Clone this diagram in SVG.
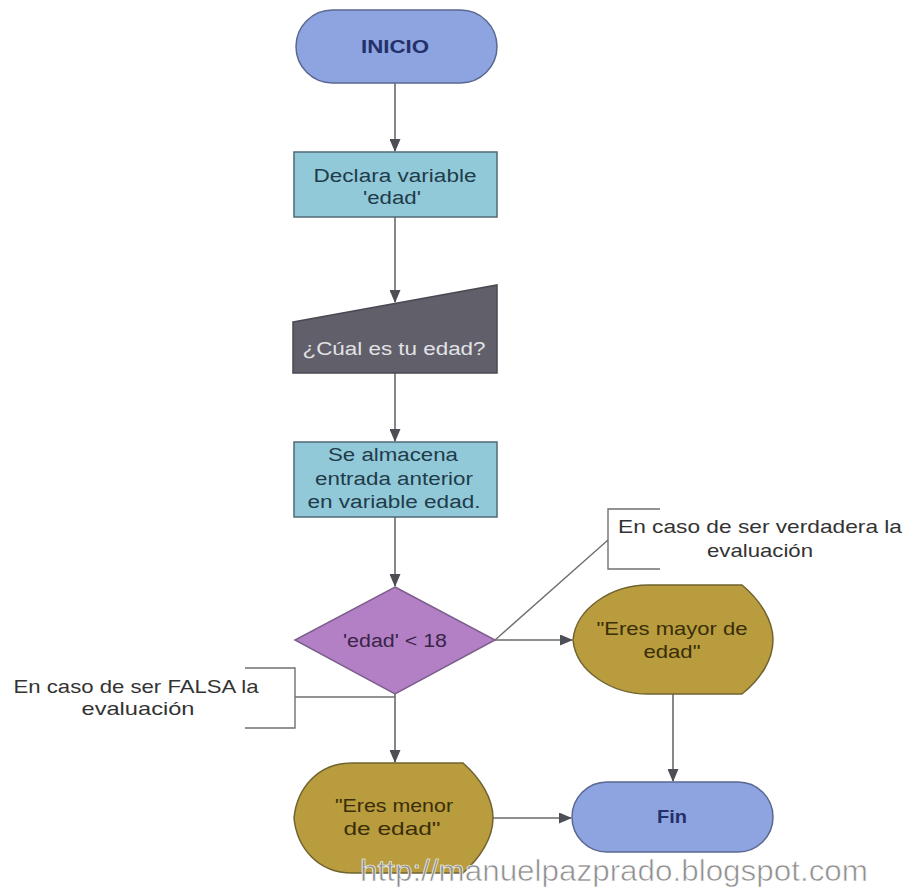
<svg xmlns="http://www.w3.org/2000/svg" width="904" height="892" viewBox="0 0 904 892">
<style>
text{font-family:"Liberation Sans",Arial,sans-serif;text-anchor:middle}
.term{fill:#8ea4e0;stroke:#5a6890;stroke-width:1.5}
.box{fill:#92c9d9;stroke:#4f6a76;stroke-width:1.5}
.inp{fill:#615f6a;stroke:#4a4852;stroke-width:1.5}
.dec{fill:#b380c6;stroke:#7d5e8c;stroke-width:1.5}
.disp{fill:#b89c3e;stroke:#6f6330;stroke-width:1.5}
.tterm{fill:#24306a;font-size:18px;font-weight:bold}
.tbox{fill:#1f3c4a;font-size:18px}
.tinp{fill:#e2e2e6;font-size:18px}
.tdec{fill:#3a2446;font-size:18px}
.tdisp{fill:#3a2e08;font-size:19px}
.tnote{fill:#333;font-size:19px}
.conn{fill:none;stroke:#6a6a6a;stroke-width:1.6}
.note{fill:none;stroke:#707070;stroke-width:1.4}
</style>
<defs>
<marker id="ah" markerWidth="13" markerHeight="11" refX="12" refY="5.5" orient="auto" markerUnits="userSpaceOnUse">
<path d="M0,0 L13,5.5 L0,11 Z" fill="#4e4e56"/>
</marker>
</defs>
<rect width="904" height="892" fill="#ffffff"/>
<g id="connectors">
<line class="conn" x1="395" y1="83" x2="395" y2="151" marker-end="url(#ah)"/>
<line class="conn" x1="395" y1="217" x2="395" y2="302" marker-end="url(#ah)"/>
<line class="conn" x1="395" y1="373" x2="395" y2="441" marker-end="url(#ah)"/>
<line class="conn" x1="395" y1="517" x2="395" y2="586" marker-end="url(#ah)"/>
<line class="conn" x1="395" y1="694" x2="395" y2="762" marker-end="url(#ah)"/>
<line class="conn" x1="495" y1="640" x2="572" y2="640" marker-end="url(#ah)"/>
<line class="conn" x1="673" y1="694" x2="673" y2="781" marker-end="url(#ah)"/>
<line class="conn" x1="493" y1="818" x2="571" y2="818" marker-end="url(#ah)"/>
</g>
<g id="note-false">
<path class="note" d="M245,668 H295 V728 H245 M295,697 H395"/>
<text class="tnote" x="136" y="693" textLength="245" lengthAdjust="spacingAndGlyphs">En caso de ser FALSA la</text>
<text class="tnote" x="138" y="715" textLength="113" lengthAdjust="spacingAndGlyphs">evaluación</text>
</g>
<g id="note-true">
<path class="note" d="M660,509 H608 V569 H660 M608,540 L495,640"/>
<text class="tnote" x="760" y="533" textLength="284" lengthAdjust="spacingAndGlyphs">En caso de ser verdadera la</text>
<text class="tnote" x="760" y="557" textLength="106" lengthAdjust="spacingAndGlyphs">evaluación</text>
</g>
<g id="inicio">
<rect class="term" x="296" y="10" width="201" height="73" rx="36.5"/>
<text class="tterm" x="395" y="53" textLength="68" lengthAdjust="spacingAndGlyphs">INICIO</text>
</g>
<g id="declara">
<rect class="box" x="294" y="152" width="203" height="65"/>
<text class="tbox" x="395" y="182" textLength="163" lengthAdjust="spacingAndGlyphs">Declara variable</text>
<text class="tbox" x="392" y="204" textLength="58" lengthAdjust="spacingAndGlyphs">'edad'</text>
</g>
<g id="entrada">
<path class="inp" d="M293,322 L497,285 L497,373 L293,373 Z"/>
<text class="tinp" x="394" y="355" textLength="183" lengthAdjust="spacingAndGlyphs">¿Cúal es tu edad?</text>
</g>
<g id="almacena">
<rect class="box" x="294" y="442" width="203" height="75"/>
<text class="tbox" x="393" y="461" textLength="130" lengthAdjust="spacingAndGlyphs">Se almacena</text>
<text class="tbox" x="394" y="485" textLength="158" lengthAdjust="spacingAndGlyphs">entrada anterior</text>
<text class="tbox" x="394" y="508" textLength="173" lengthAdjust="spacingAndGlyphs">en variable edad.</text>
</g>
<g id="decision">
<path class="dec" d="M395,587 L495,640 L395,694 L295,640 Z"/>
<text class="tdec" x="395" y="647" textLength="104" lengthAdjust="spacingAndGlyphs">'edad' &lt; 18</text>
</g>
<g id="mayor">
<path class="disp" d="M648,585 L742,585 C760,600 773,620 773,640 C773,660 760,680 742,694 L648,694 C612,694 576,672 573,640 C576,608 612,585 648,585 Z"/>
<text class="tdisp" x="672" y="635" textLength="151" lengthAdjust="spacingAndGlyphs">"Eres mayor de</text>
<text class="tdisp" x="672" y="658" textLength="57" lengthAdjust="spacingAndGlyphs">edad"</text>
</g>
<g id="menor">
<path class="disp" d="M352,763 L463,763 C480,778 493,798 493,818 C493,838 480,858 463,873 L352,873 C318,873 297,848 294,818 C297,788 318,763 352,763 Z"/>
<text class="tdisp" x="394" y="812" textLength="118" lengthAdjust="spacingAndGlyphs">"Eres menor</text>
<text class="tdisp" x="392" y="835" textLength="97" lengthAdjust="spacingAndGlyphs">de edad"</text>
</g>
<g id="fin">
<rect class="term" x="572" y="782" width="201" height="70" rx="35"/>
<text class="tterm" x="672" y="823" textLength="30" lengthAdjust="spacingAndGlyphs">Fin</text>
</g>
<text x="614" y="881" style="fill:#8e8e8e;stroke:#ffffff;stroke-width:0.6;font-size:29px" textLength="508" lengthAdjust="spacingAndGlyphs">http://manuelpazprado.blogspot.com</text>
</svg>
